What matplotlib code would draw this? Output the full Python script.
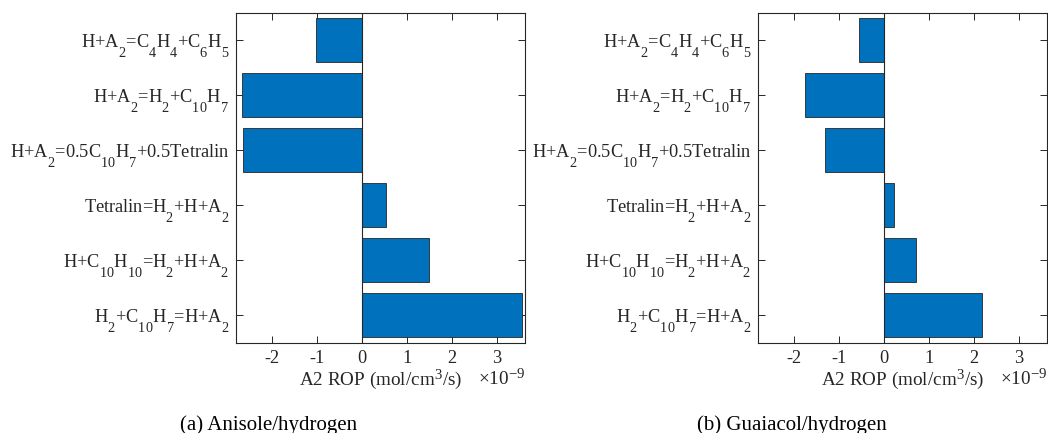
import matplotlib
matplotlib.use("Agg")
import matplotlib.pyplot as plt
import numpy as np
from matplotlib import _mathtext

plt.rcParams["font.family"] = ["Liberation Serif", "DejaVu Serif"]
plt.rcParams["mathtext.fontset"] = "custom"
plt.rcParams["mathtext.rm"] = "Liberation Serif"
plt.rcParams["mathtext.it"] = "Liberation Serif:italic"
plt.rcParams["mathtext.default"] = "rm"
plt.rcParams["axes.unicode_minus"] = False


# deeper, slightly bigger subscripts, closer to the TeX-interpreter look
class LowSubscripts(_mathtext.FontConstantsBase):
    sub1 = 1.15
    sub2 = 1.15


try:
    _mathtext._font_constant_mapping["Liberation Serif"] = LowSubscripts
    _mathtext.SHRINK_FACTOR = 0.78
except AttributeError:
    pass

# reactions, bottom to top
reactions = [
    "H$_2$+C$_{10}$H$_7$=H+A$_2$",
    "H+C$_{10}$H$_{10}$=H$_2$+H+A$_2$",
    "Tetralin=H$_2$+H+A$_2$",
    "H+A$_2$=0.5C$_{10}$H$_7$+0.5Tetralin",
    "H+A$_2$=H$_2$+C$_{10}$H$_7$",
    "H+A$_2$=C$_4$H$_4$+C$_6$H$_5$",
]

# A2 rate of production, in units of 1e-9 mol/cm3/s
rop_anisole = [3.56, 1.49, 0.54, -2.65, -2.67, -1.03]
rop_guaiacol = [2.18, 0.71, 0.23, -1.32, -1.76, -0.56]

panel_titles = ["(a) Anisole/hydrogen", "(b) Guaiacol/hydrogen"]
xticks = [-2, -1, 0, 1, 2, 3]

BAR_COLOR = "#0072BD"
EDGE = "#262626"

fig = plt.figure(figsize=(10.48, 4.33), dpi=100)
axes = [
    fig.add_axes([0.2255, 0.209, 0.2755, 0.761]),
    fig.add_axes([0.7236, 0.209, 0.2755, 0.761]),
]

y = np.arange(1, len(reactions) + 1)
for ax, vals in zip(axes, [rop_anisole, rop_guaiacol]):
    ax.barh(y, vals, height=0.8, color=BAR_COLOR, edgecolor=EDGE, linewidth=0.6, zorder=2)
    ax.axvline(0, color=EDGE, linewidth=0.8, zorder=3)
    ax.set_xlim(-2.8, 3.63)
    ax.set_ylim(0.5, 6.5)
    ax.set_xticks(xticks)
    ax.set_yticks(y, reactions)
    ax.tick_params(direction="in", top=True, right=True, length=5, width=0.7,
                   colors=EDGE, labelcolor="#262626", labelsize=13.2)
    ax.tick_params(axis="y", pad=5)
    ax.tick_params(axis="x", pad=5.5)
    for sp in ax.spines.values():
        sp.set_color(EDGE)
        sp.set_linewidth(0.8)
    ax.set_xlabel("A2 ROP (mol/cm$^3$/s)", fontsize=13.8, color="#262626")
    ax.xaxis.set_label_coords(0.5, -0.128)
    ax.xaxis.label.set_va("baseline")
    ax.text(1.0, -0.128, r"$\times$10$^{-9}$", transform=ax.transAxes,
            ha="right", va="baseline", fontsize=13.8, color="#262626")

fig.text(0.2567, 0.007, panel_titles[0], ha="center", va="baseline", fontsize=15)
fig.text(0.7557, 0.007, panel_titles[1], ha="center", va="baseline", fontsize=15)

fig.savefig("out.png", dpi=100)
